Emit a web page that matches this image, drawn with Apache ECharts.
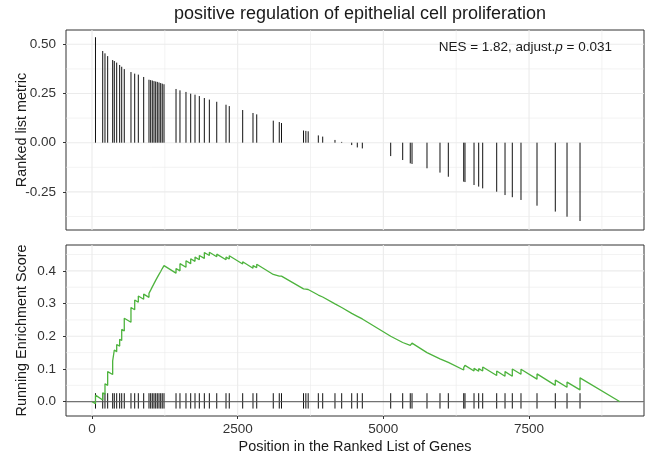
<!DOCTYPE html>
<html>
<head>
<meta charset="utf-8">
<script src="https://cdn.jsdelivr.net/npm/echarts@6/dist/echarts.min.js"></script>
<style>html,body{margin:0;padding:0;background:#fff;}#c{width:645px;height:459px;}</style>
</head>
<body>
<div id="c"></div>
<script>
// ---- data ----
const hitPositions = [60,184,223,269,355,383,424,475,510,554,669,733,795,887,
  978,1007,1035,1064,1093,1121,1150,1179,1206,1236,
  1442,1510,1613,1694,1768,1842,1928,2014,2141,2300,2356,
  2586,2763,2827,3111,3214,3252,3630,3670,3710,
  3884,3959,4170,4285,4457,4553,4639,
  5126,5332,5462,5492,5749,5972,6115,
  6379,6401,6556,6636,6705,6945,7088,7213,7362,
  7637,7951,8152,8375];
const rankedMetric = [0.536,0.466,0.454,0.440,0.420,0.415,0.407,0.395,0.386,0.374,0.359,0.351,0.346,0.334,
  0.320,0.318,0.316,0.313,0.311,0.309,0.306,0.303,0.300,0.297,
  0.273,0.266,0.258,0.249,0.244,0.237,0.227,0.219,0.208,0.193,0.186,
  0.166,0.151,0.144,0.112,0.105,0.100,0.062,0.060,0.058,
  0.037,0.031,0.014,0.004,-0.012,-0.024,-0.029,
  -0.068,-0.088,-0.105,-0.108,-0.130,-0.152,-0.173,
  -0.198,-0.200,-0.215,-0.223,-0.232,-0.249,-0.266,-0.277,-0.291,
  -0.320,-0.350,-0.376,-0.398];
const runningES = [[1,0.000],
  [60,-0.006],[60,0.020],[184,0.005],[184,0.027],[223,0.023],[223,0.055],[269,0.050],[269,0.092],
  [355,0.083],[355,0.125],[383,0.122],[383,0.158],[424,0.153],[424,0.175],[475,0.170],[475,0.191],
  [510,0.187],[510,0.221],[554,0.216],[554,0.255],[669,0.243],[669,0.288],[733,0.281],[733,0.311],
  [795,0.304],[795,0.323],[887,0.313],[887,0.329],[978,0.319],[978,0.331],[1007,0.328],[1007,0.341],
  [1035,0.338],[1035,0.351],[1064,0.348],[1064,0.361],[1093,0.358],[1093,0.371],[1121,0.368],[1121,0.380],
  [1150,0.377],[1150,0.389],[1179,0.386],[1179,0.398],[1206,0.395],[1206,0.407],[1236,0.404],[1236,0.416],
  [1442,0.393],[1442,0.407],[1510,0.400],[1510,0.422],[1613,0.411],[1613,0.431],[1694,0.422],[1694,0.437],
  [1768,0.429],[1768,0.442],[1842,0.434],[1842,0.447],[1928,0.438],[1928,0.456],[2014,0.447],[2014,0.457],
  [2141,0.443],[2141,0.451],[2300,0.434],[2300,0.442],[2356,0.436],[2356,0.446],[2586,0.421],[2586,0.428],
  [2763,0.408],[2763,0.416],[2827,0.410],[2827,0.420],[3111,0.389],[3111,0.395],[3214,0.384],[3214,0.388],
  [3252,0.384],[3252,0.387],[3630,0.345],[3630,0.348],[3670,0.344],[3670,0.347],[3710,0.343],[3710,0.345],
  [3884,0.326],[3884,0.328],[3959,0.320],[3959,0.322],[4170,0.299],[4170,0.300],[4285,0.288],[4285,0.288],
  [4457,0.270],[4457,0.271],[4553,0.261],[4553,0.262],[4639,0.253],[4639,0.254],[5126,0.200],[5126,0.204],
  [5332,0.181],[5332,0.186],[5462,0.172],[5462,0.177],[5492,0.174],[5492,0.179],[5749,0.150],[5749,0.155],
  [5972,0.131],[5972,0.136],[6115,0.120],[6115,0.126],[6379,0.097],[6379,0.104],[6401,0.102],[6401,0.111],
  [6556,0.094],[6556,0.102],[6636,0.093],[6636,0.101],[6705,0.094],[6705,0.106],[6945,0.080],[6945,0.094],
  [7088,0.078],[7088,0.092],[7213,0.078],[7213,0.100],[7362,0.084],[7362,0.099],[7637,0.069],[7637,0.085],
  [7951,0.050],[7951,0.066],[8152,0.044],[8152,0.060],[8375,0.036],[8375,0.073],[9061,0.000]];
const xTicks = [0,2500,5000,7500];
const xMinor = [1250,3750,6250,8750];
const yTopTicks = [-0.25,0,0.25,0.5];
const yTopMinor = [-0.375,-0.125,0.125,0.375];
const yBotTicks = [0,0.1,0.2,0.3,0.4];
const yBotMinor = [0.05,0.15,0.25,0.35,0.45];
const rugRange = [-0.021,0.026];
const titleText = 'positive regulation of epithelial cell proliferation';

// ---- rendering ----
const FONT = 'Liberation Sans, Arial, sans-serif';
const chart = echarts.init(document.getElementById('c'), null, {renderer:'canvas'});

function vGrid(gi, vals, w){
  return {type:'custom', xAxisIndex:gi, yAxisIndex:gi, silent:true, z:0, clip:false,
    data: vals.map(v=>[v,0]),
    renderItem:(params, api)=>{
      const cs = params.coordSys; const p = api.coord([api.value(0), 0]);
      return {type:'line', shape:{x1:p[0],y1:cs.y,x2:p[0],y2:cs.y+cs.height},
        style:{stroke:'#ebebeb', lineWidth:w}};
    }};
}
function hGrid(gi, vals, w){
  return {type:'custom', xAxisIndex:gi, yAxisIndex:gi, silent:true, z:0, clip:false,
    data: vals.map(v=>[0,v]),
    renderItem:(params, api)=>{
      const cs = params.coordSys; const p = api.coord([0, api.value(1)]);
      return {type:'line', shape:{x1:cs.x,y1:p[1],x2:cs.x+cs.width,y2:p[1]},
        style:{stroke:'#ebebeb', lineWidth:w}};
    }};
}

const axisLabelStyle = {color:'#333', fontSize:13.5, fontFamily:FONT};

const option = {
  animation:false,
  backgroundColor:'#fff',
  title:[
    {text:titleText, left:355, textAlign:'center', top:0,
     textStyle:{fontSize:18, fontWeight:'normal', color:'#1a1a1a', fontFamily:FONT}},
    {text:'{a|NES = 1.82, adjust.}{b|p}{a| = 0.031}', right:28, top:35,
     textStyle:{fontWeight:'normal', rich:{a:{fontSize:13.5, color:'#1a1a1a', fontWeight:'normal', fontFamily:FONT},
                      b:{fontSize:13.5, color:'#1a1a1a', fontWeight:'normal', fontStyle:'italic', fontFamily:FONT}}}}
  ],
  grid:[
    {left:66, top:30, width:578, height:200, show:true, borderColor:'#333', borderWidth:1, backgroundColor:'#fff'},
    {left:66, top:245, width:578, height:171, show:true, borderColor:'#333', borderWidth:1, backgroundColor:'#fff'}
  ],
  xAxis:[
    {type:'value', gridIndex:0, min:-446, max:9473, axisLabel:{show:false}, axisTick:{show:false},
     axisLine:{show:false, onZero:false}, splitLine:{show:false}},
    {type:'value', gridIndex:1, min:-446, max:9473,
     axisLabel:{customValues:xTicks, formatter:v=>String(v), ...axisLabelStyle, margin:6},
     axisTick:{customValues:xTicks, length:3, lineStyle:{color:'#333'}},
     axisLine:{show:false, onZero:false}, splitLine:{show:false},
     name:'Position in the Ranked List of Genes', nameLocation:'middle', nameGap:24, nameMoveOverlap:false,
     nameTextStyle:{fontSize:14.4, color:'#1a1a1a', fontFamily:FONT}}
  ],
  yAxis:[
    {type:'value', gridIndex:0, min:-0.4436, max:0.5727,
     axisLabel:{customValues:yTopTicks, formatter:v=>v.toFixed(2), ...axisLabelStyle, margin:10},
     axisTick:{customValues:yTopTicks, length:3, lineStyle:{color:'#333'}},
     axisLine:{show:false, onZero:false}, splitLine:{show:false},
     name:'Ranked list metric', nameLocation:'middle', nameGap:37, nameRotate:90, nameMoveOverlap:false,
     nameTextStyle:{fontSize:14.4, color:'#1a1a1a', fontFamily:FONT}},
    {type:'value', gridIndex:1, min:-0.0437, max:0.479,
     axisLabel:{customValues:yBotTicks, formatter:v=>v.toFixed(1), ...axisLabelStyle, margin:10},
     axisTick:{customValues:yBotTicks, length:3, lineStyle:{color:'#333'}},
     axisLine:{show:false, onZero:false}, splitLine:{show:false},
     name:'Running Enrichment Score', nameLocation:'middle', nameGap:37, nameRotate:90, nameMoveOverlap:false,
     nameTextStyle:{fontSize:14.4, color:'#1a1a1a', fontFamily:FONT}}
  ],
  series:[
    vGrid(0, xMinor, 0.6), vGrid(0, xTicks, 1.1), hGrid(0, yTopMinor, 0.6), hGrid(0, yTopTicks, 1.1),
    vGrid(1, xMinor, 0.6), vGrid(1, xTicks, 1.1), hGrid(1, yBotMinor, 0.6), hGrid(1, yBotTicks, 1.1),
    {type:'custom', xAxisIndex:0, yAxisIndex:0, z:3, silent:true,
     data: hitPositions.map((x,i)=>[x, rankedMetric[i]]),
     renderItem:(params, api)=>{
       const p0 = api.coord([api.value(0), 0]); const p1 = api.coord([api.value(0), api.value(1)]);
       return {type:'line', shape:{x1:p0[0],y1:p0[1],x2:p1[0],y2:p1[1]}, style:{stroke:'#111', lineWidth:1}};
     }},
    {type:'custom', xAxisIndex:1, yAxisIndex:1, z:3, silent:true,
     data: hitPositions.map(x=>[x, 0]),
     renderItem:(params, api)=>{
       const p0 = api.coord([api.value(0), rugRange[0]]); const p1 = api.coord([api.value(0), rugRange[1]]);
       return {type:'line', shape:{x1:p0[0],y1:p0[1],x2:p1[0],y2:p1[1]}, style:{stroke:'#111', lineWidth:1}};
     }},
    {type:'custom', xAxisIndex:1, yAxisIndex:1, z:4, silent:true, clip:false,
     data:[[0,0]],
     renderItem:(params, api)=>{
       const cs = params.coordSys; const p = api.coord([0, 0]);
       return {type:'line', shape:{x1:cs.x,y1:p[1],x2:cs.x+cs.width,y2:p[1]}, style:{stroke:'#555', lineWidth:1}};
     }},
    {type:'line', xAxisIndex:1, yAxisIndex:1, z:5, data:runningES, showSymbol:false, symbol:'none',
     lineStyle:{color:'#4db33d', width:1.3}, silent:true}
  ]
};
chart.setOption(option);
</script>
</body>
</html>
